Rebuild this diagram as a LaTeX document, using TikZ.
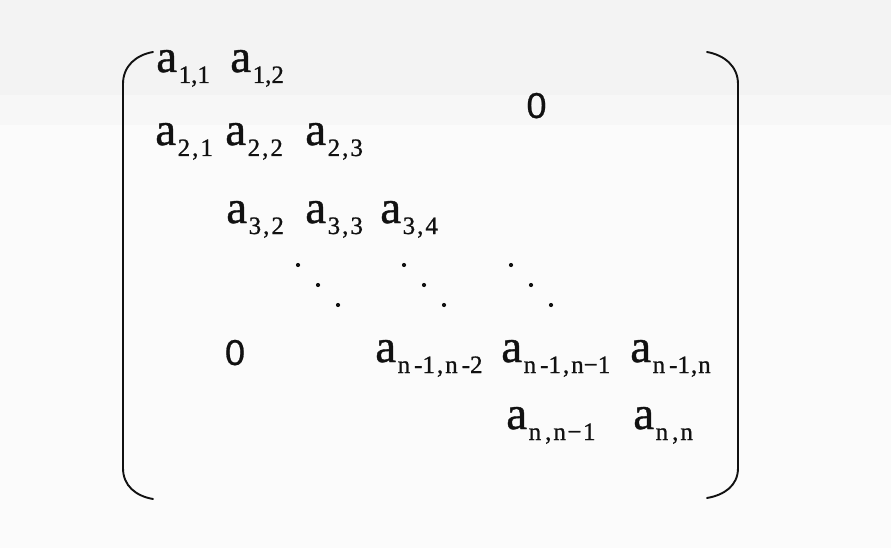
\documentclass[tikz,border=0pt]{standalone}
\usepackage{fontspec}
\setmainfont{Liberation Serif}[FakeBold=0.9]
\newfontfamily\zerofont{Liberation Sans}[FakeBold=0.7]
\newcommand\mtxel[1]{{\fontsize{47}{47}\selectfont a}\kern1.5pt\raisebox{-11pt}{\fontsize{25}{25}\selectfont #1}}
\newcommand\cm{\kern2pt,\kern2pt}
\definecolor{ink}{HTML}{111111}
\definecolor{bgtop}{HTML}{F3F3F3}
\definecolor{bgmid}{HTML}{F7F7F7}
\definecolor{bgbot}{HTML}{FBFBFB}
\tikzset{
  el/.style={anchor=base west, inner sep=0pt, outer sep=0pt, text=ink},
  zero/.style={anchor=base, inner sep=0pt, outer sep=0pt, text=ink, font=\zerofont\fontsize{36}{36}\selectfont},
  bracket/.style={draw=ink, line width=1.9pt, line cap=round},
  ddot/.style={fill=ink}
}
\begin{document}
\begin{tikzpicture}[x=1pt,y=-1pt]
\useasboundingbox (0,0) rectangle (891,548);
\fill[bgbot] (0,0) rectangle (891,548);
\fill[bgmid] (0,0) rectangle (891,125);
\fill[bgtop] (0,0) rectangle (891,95);
% brackets
\draw[bracket] (153,52) .. controls (136,55) and (123,66) .. (123,84) -- (123,468) .. controls (123,486) and (136,496) .. (153,499);
\draw[bracket] (707,52) .. controls (724,55) and (738,66) .. (738,84) -- (738,468) .. controls (738,486) and (724,495) .. (707,498);
% row 1
\node[el] (a11) at (156.3,72) {\mtxel{1,1}};
\node[el] (a12) at (230.3,72) {\mtxel{1,2}};
% row 2
\node[el] (a21) at (155.3,145) {\mtxel{2\cm1}};
\node[el] (a22) at (225.3,145) {\mtxel{2\cm2}};
\node[el] (a23) at (305.3,145) {\mtxel{2\cm3}};
% row 3
\node[el] (a32) at (226.3,223) {\mtxel{3\cm2}};
\node[el] (a33) at (305.3,223) {\mtxel{3\cm3}};
\node[el] (a34) at (380.3,223) {\mtxel{3\cm4}};
% dots
\foreach \x in {298,404,511}{
  \fill[ddot] (\x,265) circle (2.1pt);
  \fill[ddot] (\x+20,285) circle (2.1pt);
  \fill[ddot] (\x+40,305) circle (2.1pt);
}
% row n-1
\node[el] (an1n2) at (375.3,362) {\mtxel{n\kern4pt-1\cm n\kern4pt-2}};
\node[el] (an1n1) at (501.3,362) {\mtxel{n\kern4pt-1\cm n−1}};
\node[el] (an1n) at (630.3,362) {\mtxel{n\kern4pt-1\kern1pt,\kern1pt n}};
% row n
\node[el] (ann1) at (506.3,429) {\mtxel{n\kern4pt,\kern2pt n\kern1.5pt−\kern1.5pt1}};
\node[el] (ann) at (633.3,429) {\mtxel{n\kern4pt,\kern2pt n}};
% zeros
\node[zero] (z1) at (536.5,118) {0};
\node[zero] (z2) at (235,365) {0};
\end{tikzpicture}
\end{document}
